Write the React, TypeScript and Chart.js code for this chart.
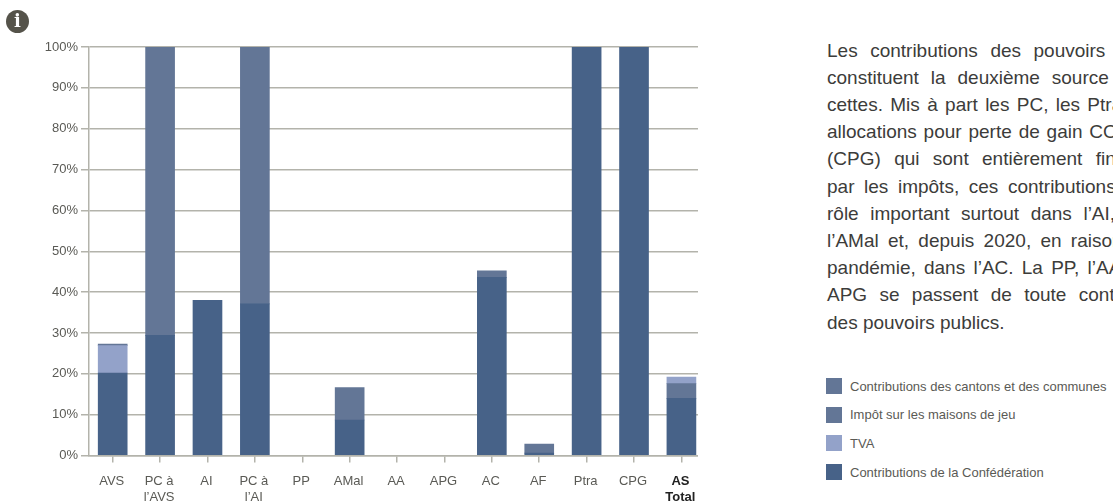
import React, { useEffect, useRef } from "react";
import { Chart, registerables } from "chart.js";

Chart.register(...registerables);

const categories = ["AVS", ["PC à", "l’AVS"], "AI", ["PC à", "l’AI"], "PP", "AMal", "AA", "APG", "AC", "AF", "Ptra", "CPG", ["AS", "Total"]];
const confederation = [20.2, 29.4, 38.0, 37.1, 0, 8.7, 0, 0, 43.6, 0.6, 100, 100, 14.0];
const cantons = [0, 70.6, 0, 62.9, 0, 7.9, 0, 0, 1.6, 2.2, 0, 0, 3.6];
const tva = [6.7, 0, 0, 0, 0, 0, 0, 0, 0, 0, 0, 0, 1.6];
const jeu = [0.4, 0, 0, 0, 0, 0, 0, 0, 0, 0, 0, 0, 0];
const yTicks = [0, 10, 20, 30, 40, 50, 60, 70, 80, 90, 100];

const DARK = "#476288";
const MID = "#637696";
const LIGHT = "#93a2c9";
const GRID = "#b3b3ab";
const TEXT = "#5a5a55";
const FONT = '"Liberation Sans", sans-serif';

const legendItems = [
  { label: "Contributions des cantons et des communes", color: MID },
  { label: "Impôt sur les maisons de jeu", color: MID },
  { label: "TVA", color: LIGHT },
  { label: "Contributions de la Confédération", color: DARK },
];

const paragraph = [
  "Les contributions des pouvoirs publics",
  "constituent la deuxième source de re-",
  "cettes. Mis à part les PC, les Ptra et les",
  "allocations pour perte de gain COVID-19",
  "(CPG) qui sont entièrement financées",
  "par les impôts, ces contributions jouent",
  "rôle important surtout dans l’AI, l’AVS,",
  "l’AMal et, depuis 2020, en raison de la",
  "pandémie, dans l’AC. La PP, l’AA et les",
  "APG se passent de toute contribution",
  "des pouvoirs publics.",
];

const toPoints = (values: number[]) => values.map((y, x) => ({ x, y: y === 0 ? null : y }));

export default function App() {
  const ref = useRef<HTMLCanvasElement>(null);

  useEffect(() => {
    const make = (label: string, values: number[], color: string) => ({
      label,
      data: toPoints(values),
      backgroundColor: color,
      borderWidth: 0,
      barThickness: 29,
      stack: "s",
    });
    const chart = new Chart(ref.current!, {
      type: "bar",
      data: {
        datasets: [
          make("Contributions de la Confédération", confederation, DARK),
          make("Contributions des cantons et des communes", cantons, MID),
          make("TVA", tva, LIGHT),
          make("Impôt sur les maisons de jeu", jeu, MID),
        ],
      },
      options: {
        animation: false,
        responsive: false,
        layout: { padding: { left: 0, right: 0, top: 47, bottom: 0 } },
        plugins: { legend: { display: false }, tooltip: { enabled: false } },
        scales: {
          x: {
            type: "linear",
            stacked: true,
            offset: false,
            min: -0.5,
            max: 12.35,
            afterBuildTicks: (s: any) => {
              s.ticks = categories.map((_, i) => ({ value: i }));
            },
            grid: { offset: false, drawOnChartArea: false, color: GRID, lineWidth: 1.5, tickLength: 7 },
            border: { color: GRID, width: 1.5 },
            afterFit: (s: any) => { s.height = 47.5; s.paddingLeft = 0; s.paddingRight = 0; },
            ticks: {
              autoSkip: false,
              maxRotation: 0,
              minRotation: 0,
              padding: 11,
              labelOffset: -1,
              color: (c: any) => (c.index === 12 ? "#222" : TEXT),
              font: (c: any) => ({ family: FONT, size: 13, lineHeight: 1.23, weight: c.index === 12 ? "bold" : "normal" }),
              callback: (v: any) => categories[v as number],
            },
          },
          y: {
            stacked: true,
            min: 0,
            max: 100,
            afterBuildTicks: (s: any) => {
              s.ticks = yTicks.map((value) => ({ value }));
            },
            afterFit: (s: any) => { s.width = 89; },
            grid: { color: GRID, lineWidth: 1.5, tickLength: 8 },
            border: { color: GRID, width: 1.5 },
            ticks: {
              padding: 3,
              color: TEXT,
              font: { family: FONT, size: 13 },
              callback: (v: any) => `${v}%`,
            },
          },
        },
      },
    } as any);
    return () => chart.destroy();
  }, []);

  return (
    <div style={{ position: "fixed", left: 0, top: 0, width: 1113, height: 503, overflow: "hidden", background: "#fff" }}>
      <canvas ref={ref} width={698} height={503} style={{ position: "absolute", left: 0, top: 0, width: 698, height: 503, display: "block" }} />
      <div style={{ position: "absolute", left: 6, top: 10, width: 23, height: 23, borderRadius: "50%", background: "#55534a", color: "#fff", fontFamily: '"DejaVu Serif", serif', fontWeight: 700, fontSize: 18, lineHeight: "22px", textAlign: "center" }}>i</div>
      <div style={{ position: "absolute", left: 827, top: 36.5, width: 350, fontFamily: FONT, fontSize: 19, lineHeight: "27.2px", color: "#3c3c3a", whiteSpace: "nowrap" }}>
        {paragraph.map((line, i) => (
          <div key={i} style={{ textAlign: "justify", textAlignLast: i === paragraph.length - 1 ? "left" : "justify" }}>{line}</div>
        ))}
      </div>
      {legendItems.map((item, i) => (
        <div key={i} style={{ position: "absolute", left: 826, top: 378 + i * 28.7, height: 16, display: "flex", alignItems: "center", whiteSpace: "nowrap" }}>
          <span style={{ width: 16, height: 16, background: item.color, marginRight: 8, flex: "none" }} />
          <span style={{ fontFamily: FONT, fontSize: 13, color: TEXT }}>{item.label}</span>
        </div>
      ))}
    </div>
  );
}
